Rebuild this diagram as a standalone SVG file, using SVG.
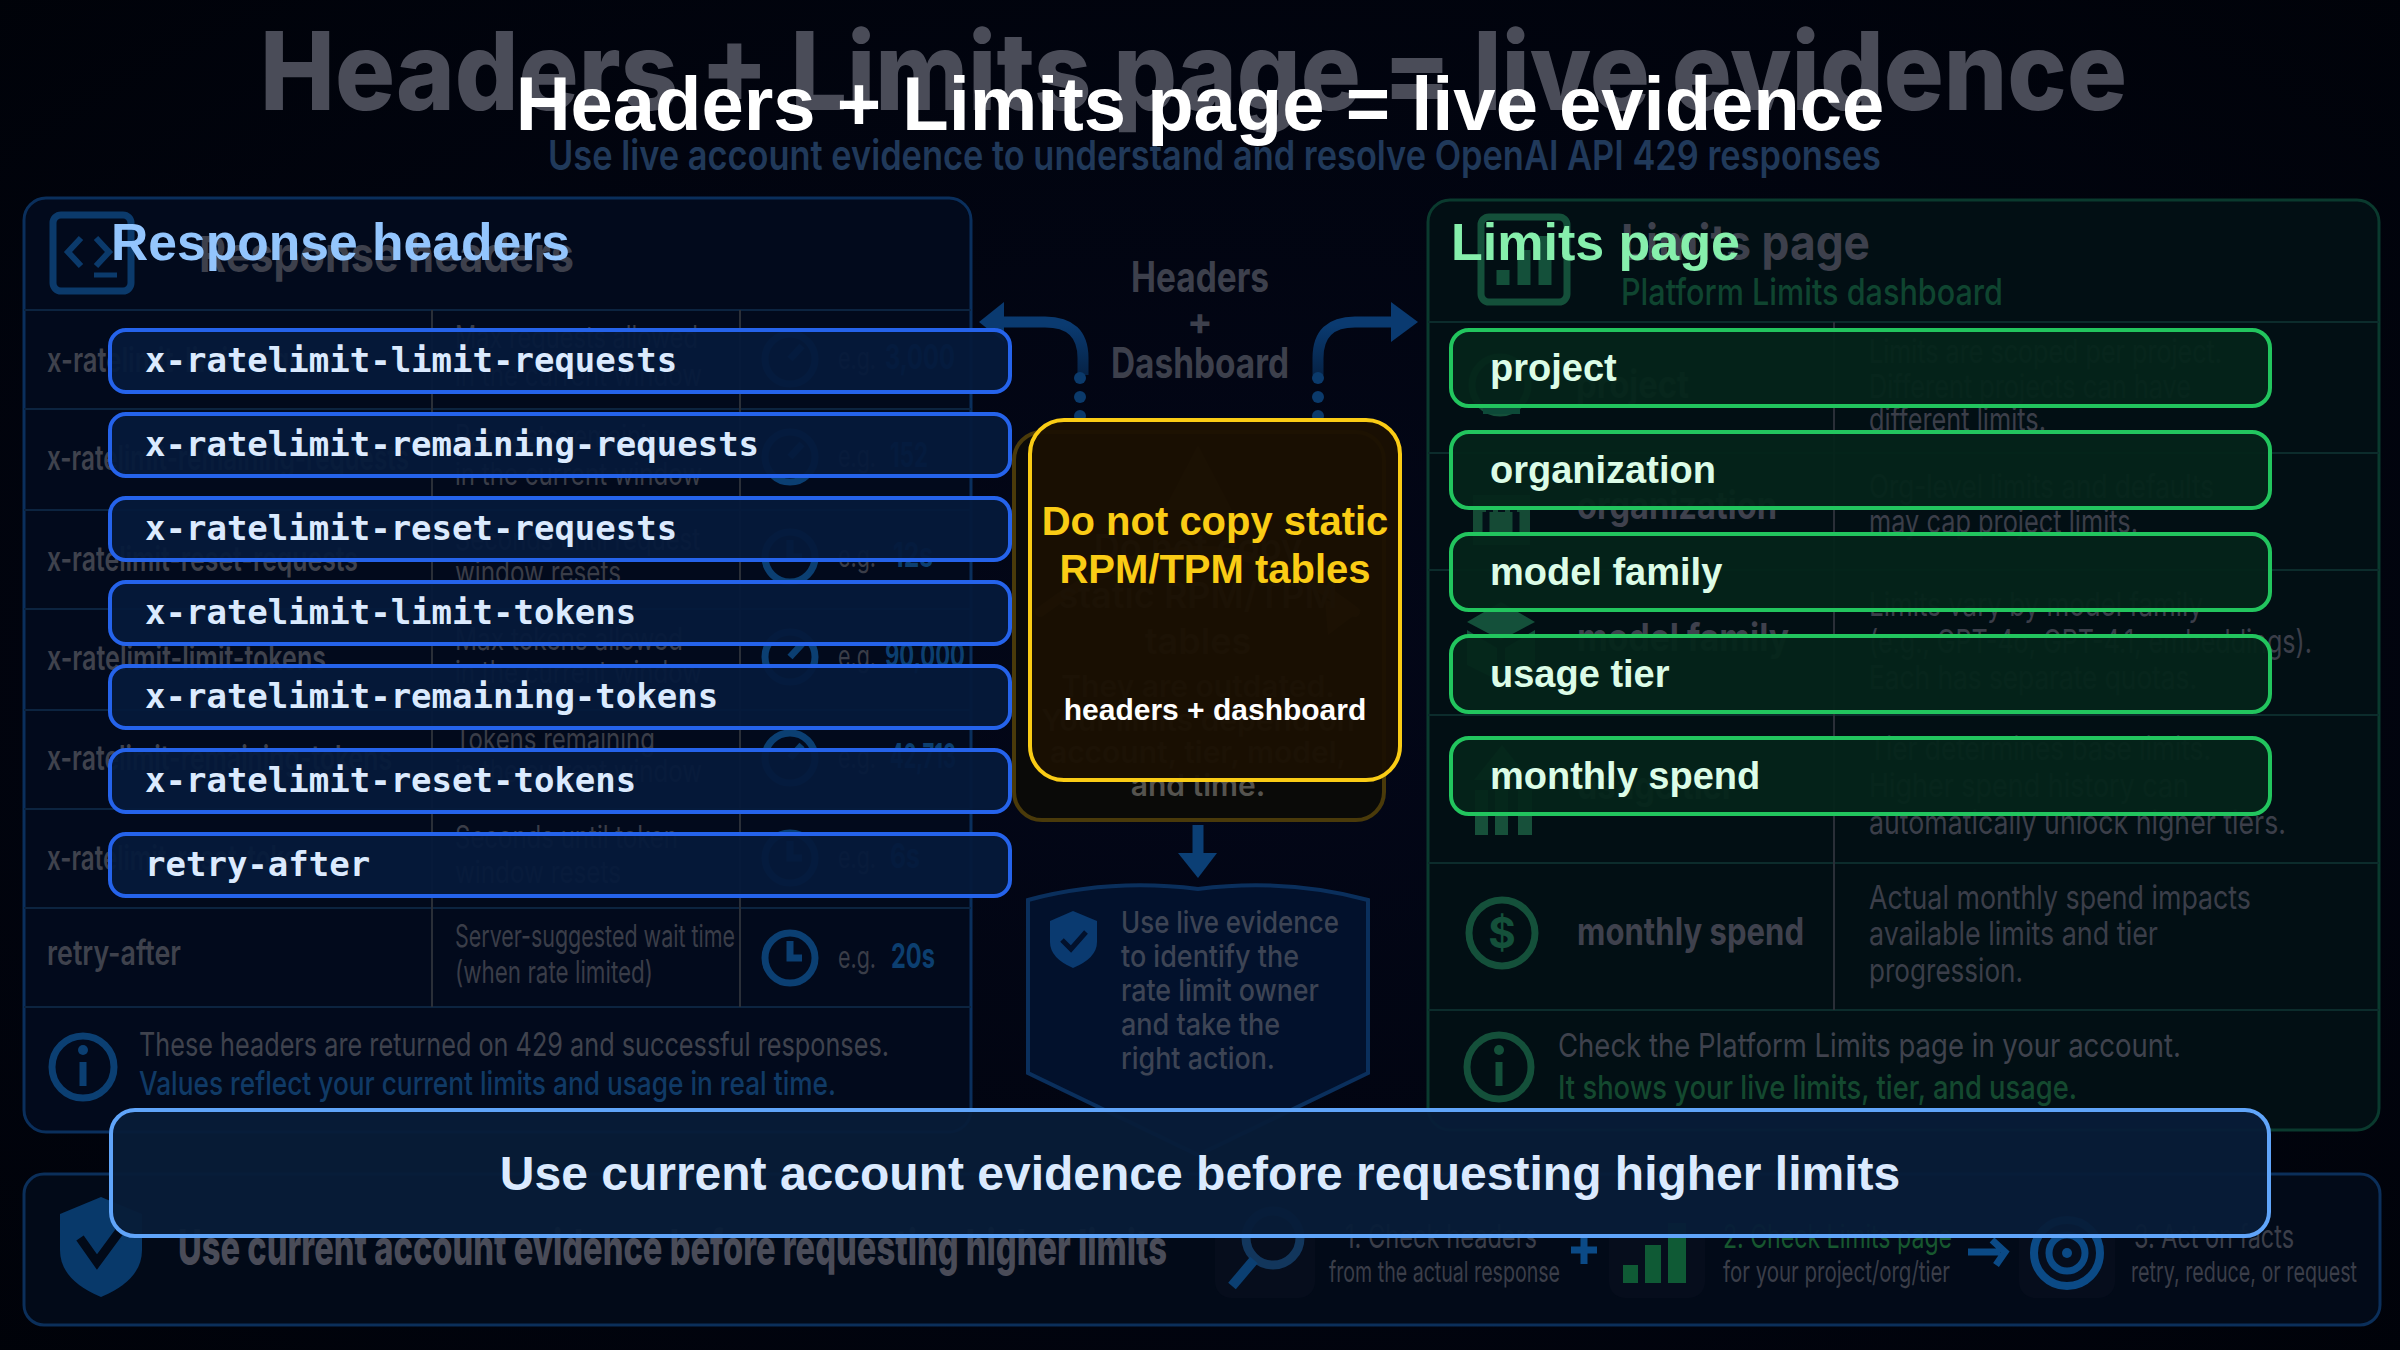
<svg xmlns="http://www.w3.org/2000/svg" width="2400" height="1350" viewBox="0 0 2400 1350">
<defs>
<radialGradient id="bg" cx="50%" cy="50%" r="75%"><stop offset="0" stop-color="#030719"/><stop offset="1" stop-color="#000208"/></radialGradient>
<linearGradient id="fade" gradientUnits="userSpaceOnUse" x1="0" y1="325" x2="0" y2="385"><stop offset="0" stop-color="#0a3a70"/><stop offset="1" stop-color="#051e3e"/></linearGradient>
</defs>
<style>
text{font-family:"Inter","Liberation Sans",sans-serif}
.g1{font-weight:800;fill:#4a4c58}
.gn{font-size:34px;font-weight:600;fill:#3f424d}
.gd{font-size:31px;fill:#3a3d48}
.ge{font-size:30px;fill:#3a3d48}
.gv{font-size:34px;font-weight:700;fill:#0c3f70}
.gr{font-size:33px;fill:#3b3e49}
.grn{font-size:38px;font-weight:700;fill:#3f414d}
.gb{font-size:30px;font-weight:500;fill:#3d4454}
.gy{font-size:30px;font-weight:600;fill:#3a3a38;text-anchor:middle}
.ic{fill:none;stroke:#0b3f72;stroke-width:7}
.icg{fill:none;stroke:#14503a;stroke-width:7}
.lin{stroke:#0c2440;stroke-width:2}
.ling{stroke:#0c2c2c;stroke-width:2}
.colv{stroke:#2a2f38;stroke-width:2}
.chip rect{fill:#05193a;fill-opacity:.94;stroke:#2563eb;stroke-width:4}
.chip text{font-family:"DejaVu Sans Mono","Liberation Mono",monospace;font-weight:700;font-size:34px;fill:#dbeafe}
.lim rect{fill:#04241a;fill-opacity:.94;stroke:#22c55e;stroke-width:4}
.lim text{font-family:"Liberation Sans",Arial,sans-serif;font-weight:700;font-size:38px;fill:#dcfce7}
.fg{font-family:"Liberation Sans",Arial,sans-serif;font-weight:700}
.dot{fill:#0b3a6b}
.arr{fill:none;stroke:url(#fade);stroke-width:11}
</style>
<rect width="2400" height="1350" fill="url(#bg)"/>

<g id="ghost-title">
<text class="g1" x="260" y="110" font-size="108" textLength="1867" lengthAdjust="spacingAndGlyphs">Headers + Limits page = live evidence</text>
<text x="548" y="170" font-size="41" font-weight="600" fill="#20395a" textLength="1333" lengthAdjust="spacingAndGlyphs">Use live account evidence to understand and resolve OpenAI API 429 responses</text>
</g>

<g id="ghost-headers-panel">
<rect x="24" y="198" width="947" height="934" rx="22" fill="#020a1c" stroke="#0a2f5c" stroke-width="3"/>
<rect x="53" y="215" width="78" height="76" rx="8" fill="none" stroke="#0b3a6b" stroke-width="7"/>
<path d="M81 238L68 252L81 266M96 238L109 252L96 266" fill="none" stroke="#0b3a6b" stroke-width="6"/>
<path d="M94 275H117" stroke="#0b3a6b" stroke-width="5"/>
<text x="199" y="272" font-size="50" font-weight="700" fill="#3d404c" textLength="375" lengthAdjust="spacingAndGlyphs">Response headers</text>
<path class="lin" d="M24 310H971M24 409H971M24 510H971M24 609H971M24 710H971M24 809H971M24 908H971M24 1007H971"/>
<path class="colv" d="M432 310V1007M740 310V1007"/>
<text class="gn" x="47" y="372" textLength="310" lengthAdjust="spacingAndGlyphs">x-ratelimit-limit-requests</text>
<text class="gn" x="47" y="470" textLength="362" lengthAdjust="spacingAndGlyphs">x-ratelimit-remaining-requests</text>
<text class="gn" x="47" y="571" textLength="311" lengthAdjust="spacingAndGlyphs">x-ratelimit-reset-requests</text>
<text class="gn" x="47" y="670" textLength="279" lengthAdjust="spacingAndGlyphs">x-ratelimit-limit-tokens</text>
<text class="gn" x="47" y="770" textLength="345" lengthAdjust="spacingAndGlyphs">x-ratelimit-remaining-tokens</text>
<text class="gn" x="47" y="870" textLength="279" lengthAdjust="spacingAndGlyphs">x-ratelimit-reset-tokens</text>
<text class="gn" x="47" y="965" textLength="134" lengthAdjust="spacingAndGlyphs">retry-after</text>
<text class="gd" x="455" y="348" textLength="243" lengthAdjust="spacingAndGlyphs">Max requests allowed</text>
<text class="gd" x="455" y="386" textLength="247" lengthAdjust="spacingAndGlyphs">in the current window</text>
<text class="gd" x="455" y="447" textLength="220" lengthAdjust="spacingAndGlyphs">Requests remaining</text>
<text class="gd" x="455" y="485" textLength="247" lengthAdjust="spacingAndGlyphs">in the current window</text>
<text class="gd" x="455" y="550" textLength="245" lengthAdjust="spacingAndGlyphs">Seconds until request</text>
<text class="gd" x="455" y="583" textLength="166" lengthAdjust="spacingAndGlyphs">window resets</text>
<text class="gd" x="455" y="650" textLength="228" lengthAdjust="spacingAndGlyphs">Max tokens allowed</text>
<text class="gd" x="455" y="683" textLength="247" lengthAdjust="spacingAndGlyphs">in the current window</text>
<text class="gd" x="455" y="750" textLength="200" lengthAdjust="spacingAndGlyphs">Tokens remaining</text>
<text class="gd" x="455" y="782" textLength="247" lengthAdjust="spacingAndGlyphs">in the current window</text>
<text class="gd" x="455" y="848" textLength="223" lengthAdjust="spacingAndGlyphs">Seconds until token</text>
<text class="gd" x="455" y="883" textLength="166" lengthAdjust="spacingAndGlyphs">window resets</text>
<text class="gd" x="455" y="947" textLength="280" lengthAdjust="spacingAndGlyphs">Server-suggested wait time</text>
<text class="gd" x="455" y="983" textLength="198" lengthAdjust="spacingAndGlyphs">(when rate limited)</text>
<g class="ic">
<circle cx="790" cy="359" r="25"/><path d="M790 359L802 346"/>
<circle cx="790" cy="457" r="25"/><path d="M790 457L802 444"/>
<circle cx="790" cy="557" r="25"/><path d="M790 540V557H802"/>
<circle cx="790" cy="657" r="25"/><path d="M790 657L802 644"/>
<circle cx="790" cy="758" r="25"/><path d="M790 758L802 745"/>
<circle cx="790" cy="858" r="25"/><path d="M790 841V858H802"/>
<circle cx="790" cy="958" r="25"/><path d="M790 941V958H802"/>
</g>
<g>
<text class="ge" x="838" y="369" textLength="38" lengthAdjust="spacingAndGlyphs">e.g.</text><text class="gv" x="885" y="369" textLength="70" lengthAdjust="spacingAndGlyphs">3,000</text>
<text class="ge" x="838" y="467" textLength="38" lengthAdjust="spacingAndGlyphs">e.g.</text><text class="gv" x="890" y="467" textLength="38" lengthAdjust="spacingAndGlyphs">152</text>
<text class="ge" x="838" y="567" textLength="38" lengthAdjust="spacingAndGlyphs">e.g.</text><text class="gv" x="893" y="567" textLength="40" lengthAdjust="spacingAndGlyphs">12s</text>
<text class="ge" x="838" y="667" textLength="38" lengthAdjust="spacingAndGlyphs">e.g.</text><text class="gv" x="885" y="667" textLength="80" lengthAdjust="spacingAndGlyphs">90,000</text>
<text class="ge" x="838" y="768" textLength="38" lengthAdjust="spacingAndGlyphs">e.g.</text><text class="gv" x="890" y="768" textLength="66" lengthAdjust="spacingAndGlyphs">42,713</text>
<text class="ge" x="838" y="868" textLength="38" lengthAdjust="spacingAndGlyphs">e.g.</text><text class="gv" x="890" y="868" textLength="30" lengthAdjust="spacingAndGlyphs">6s</text>
<text class="ge" x="838" y="968" textLength="38" lengthAdjust="spacingAndGlyphs">e.g.</text><text class="gv" x="891" y="968" textLength="44" lengthAdjust="spacingAndGlyphs">20s</text>
</g>
<circle class="ic" cx="83" cy="1067" r="31"/>
<circle cx="83" cy="1050" r="5" fill="#0b3f72"/><path d="M83 1062V1086" stroke="#0b3f72" stroke-width="7"/>
<text x="139" y="1056" font-size="33" fill="#3f424d" textLength="750" lengthAdjust="spacingAndGlyphs">These headers are returned on 429 and successful responses.</text>
<text x="139" y="1095" font-size="33" font-weight="500" fill="#103a66" textLength="697" lengthAdjust="spacingAndGlyphs">Values reflect your current limits and usage in real time.</text>
</g>

<g id="ghost-limits-panel">
<rect x="1428" y="200" width="951" height="930" rx="22" fill="#020f14" stroke="#0a3a2e" stroke-width="3"/>
<rect x="1481" y="217" width="86" height="85" rx="8" fill="none" stroke="#14503a" stroke-width="7"/>
<path d="M1503 285V270M1524 285V250M1545 285V236" stroke="#14503a" stroke-width="13"/>
<text x="1621" y="260" font-size="50" font-weight="700" fill="#3d404c" textLength="249" lengthAdjust="spacingAndGlyphs">Limits page</text>
<text x="1621" y="305" font-size="37" font-weight="500" fill="#0f4530" textLength="382" lengthAdjust="spacingAndGlyphs">Platform Limits dashboard</text>
<path class="ling" d="M1428 322H2379M1428 453H2379M1428 570H2379M1428 715H2379M1428 863H2379M1428 1010H2379"/>
<path class="colv" d="M1834 322V1010"/>
<circle class="icg" cx="1500" cy="385" r="28"/><rect x="1483" y="400" width="37" height="14" fill="#0d4a38"/>
<path d="M1473 545V495H1530V545Z" fill="#154a35"/><path d="M1486 512V532M1516 512V532" stroke="#031018" stroke-width="7"/><path d="M1486 510h7M1498 510h7M1510 510h7" stroke="#031018" stroke-width="4"/>
<path d="M1501 602L1535 622L1501 640L1467 622Z" fill="#14503a"/><path d="M1467 630V665L1497 680V648ZM1535 630V665L1505 680V648Z" fill="#14503a"/>
<path d="M1475 835V790H1488V835ZM1495 835V770H1508V835ZM1518 835V790H1532V835ZM1502 745L1530 780H1474Z" fill="#17503a"/>
<circle class="icg" cx="1502" cy="933" r="33"/><text x="1502" y="948" font-size="42" font-weight="700" fill="#14503a" text-anchor="middle">$</text>
<g class="grn">
<text x="1576" y="398" textLength="113" lengthAdjust="spacingAndGlyphs">project</text>
<text x="1577" y="519" textLength="200" lengthAdjust="spacingAndGlyphs">organization</text>
<text x="1577" y="651" textLength="212" lengthAdjust="spacingAndGlyphs">model family</text>
<text x="1577" y="799" textLength="158" lengthAdjust="spacingAndGlyphs">usage tier</text>
<text x="1577" y="945" textLength="227" lengthAdjust="spacingAndGlyphs">monthly spend</text>
</g>
<g class="gr">
<text x="1869" y="363" textLength="353" lengthAdjust="spacingAndGlyphs">Limits are scoped per project.</text>
<text x="1869" y="398" textLength="322" lengthAdjust="spacingAndGlyphs">Different projects can have</text>
<text x="1869" y="431" textLength="177" lengthAdjust="spacingAndGlyphs">different limits.</text>
<text x="1869" y="498" textLength="345" lengthAdjust="spacingAndGlyphs">Org-level limits and defaults</text>
<text x="1869" y="533" textLength="269" lengthAdjust="spacingAndGlyphs">may cap project limits.</text>
<text x="1869" y="616" textLength="334" lengthAdjust="spacingAndGlyphs">Limits vary by model family</text>
<text x="1869" y="653" textLength="443" lengthAdjust="spacingAndGlyphs">(e.g., GPT-4o, GPT-4.1, embeddings).</text>
<text x="1869" y="689" textLength="328" lengthAdjust="spacingAndGlyphs">Each has separate quotas.</text>
<text x="1869" y="760" textLength="342" lengthAdjust="spacingAndGlyphs">Tier determines base limits.</text>
<text x="1869" y="797" textLength="320" lengthAdjust="spacingAndGlyphs">Higher spend history can</text>
<text x="1869" y="834" textLength="417" lengthAdjust="spacingAndGlyphs">automatically unlock higher tiers.</text>
<text x="1869" y="909" textLength="382" lengthAdjust="spacingAndGlyphs">Actual monthly spend impacts</text>
<text x="1869" y="945" textLength="289" lengthAdjust="spacingAndGlyphs">available limits and tier</text>
<text x="1869" y="982" textLength="154" lengthAdjust="spacingAndGlyphs">progression.</text>
</g>
<circle class="icg" cx="1499" cy="1067" r="32"/>
<circle cx="1499" cy="1050" r="5" fill="#14503a"/><path d="M1499 1062V1086" stroke="#14503a" stroke-width="7"/>
<text x="1558" y="1057" font-size="33" fill="#3f424d" textLength="623" lengthAdjust="spacingAndGlyphs">Check the Platform Limits page in your account.</text>
<text x="1558" y="1099" font-size="33" font-weight="500" fill="#14492f" textLength="519" lengthAdjust="spacingAndGlyphs">It shows your live limits, tier, and usage.</text>
</g>

<g id="ghost-centre">
<text x="1200" y="292" font-size="42" font-weight="700" fill="#3d404c" text-anchor="middle" textLength="138" lengthAdjust="spacingAndGlyphs">Headers</text>
<text x="1200" y="335" font-size="38" font-weight="700" fill="#3d404c" text-anchor="middle">+</text>
<text x="1200" y="378" font-size="42" font-weight="700" fill="#3d404c" text-anchor="middle" textLength="178" lengthAdjust="spacingAndGlyphs">Dashboard</text>
<rect x="1014" y="432" width="370" height="388" rx="28" fill="#0a0a08" stroke="#4a3a0a" stroke-width="4"/>
<path d="M1198 445L1232 510H1164Z" fill="#2c2616"/>
<path d="M1040 612Q1200 490 1355 612" fill="none" stroke="#3a3520" stroke-width="10" stroke-linecap="round"/>
<path d="M1325 600L1361 610L1328 635Z" fill="#3a3520"/>
<g class="gy">
<text x="1198" y="560" font-size="36">Do not copy</text>
<text x="1198" y="608" font-size="36">static RPM/TPM</text>
<text x="1198" y="654" font-size="36">tables</text>
<text x="1198" y="697">They are outdated.</text>
<text x="1198" y="731">Your limits depend on</text>
<text x="1198" y="763">account, tier, model,</text>
<text x="1198" y="796" fill="#55534e">and time.</text>
</g>
<path d="M1028 900Q1110 878 1198 889Q1286 878 1368 900V1073L1198 1155L1028 1073Z" fill="#02112c" stroke="#0a2f5c" stroke-width="4"/>
<path d="M1073 911L1097 921V942Q1097 958 1073 968Q1050 958 1050 942V921Z" fill="#0a3a70"/>
<path d="M1062 940L1071 949L1086 932" fill="none" stroke="#02112c" stroke-width="5"/>
<g class="gb">
<text x="1121" y="933" textLength="218" lengthAdjust="spacingAndGlyphs">Use live evidence</text>
<text x="1121" y="967" textLength="178" lengthAdjust="spacingAndGlyphs">to identify the</text>
<text x="1121" y="1001" textLength="198" lengthAdjust="spacingAndGlyphs">rate limit owner</text>
<text x="1121" y="1035" textLength="159" lengthAdjust="spacingAndGlyphs">and take the</text>
<text x="1121" y="1069" textLength="154" lengthAdjust="spacingAndGlyphs">right action.</text>
</g>
</g>

<g id="connectors">
<path class="arr" d="M1083 375V358Q1083 322 1045 322H1002"/>
<path d="M979 322L1004 302V342Z" fill="#0a3a70"/>
<circle class="dot" cx="1080" cy="378" r="6"/><circle class="dot" cx="1080" cy="397" r="6"/><circle class="dot" cx="1080" cy="416" r="6"/>
<path class="arr" d="M1318 375V358Q1318 322 1355 322H1392"/>
<path d="M1418 322L1391 302V342Z" fill="#0a3a70"/>
<circle class="dot" cx="1318" cy="378" r="6"/><circle class="dot" cx="1318" cy="397" r="6"/><circle class="dot" cx="1318" cy="416" r="6"/>
<path d="M1198 825V855" stroke="#0b3f75" stroke-width="11" fill="none"/>
<path d="M1178 853H1217L1198 878Z" fill="#0b3f75"/>
</g>

<g id="ghost-bottom">
<rect x="24" y="1174" width="2356" height="151" rx="20" fill="#020a18" stroke="#0b2f5a" stroke-width="3"/>
<path d="M101 1197L142 1214V1250Q142 1280 101 1297Q60 1280 60 1250V1214Z" fill="#08396a"/>
<path d="M80 1238L97 1262L122 1228" fill="none" stroke="#020a18" stroke-width="9"/>
<text class="g1" x="178" y="1265" font-size="50" font-weight="700" textLength="989" lengthAdjust="spacingAndGlyphs">Use current account evidence before requesting higher limits</text>
<rect x="1215" y="1190" width="100" height="108" rx="16" fill="#060d1c"/>
<circle cx="1273" cy="1238" r="27" fill="none" stroke="#12365c" stroke-width="9"/>
<path d="M1254 1260L1232 1286" stroke="#0b3f72" stroke-width="10"/>
<text x="1345" y="1248" font-size="32" fill="#3b3e49" textLength="192" lengthAdjust="spacingAndGlyphs">1. Check headers</text>
<text x="1329" y="1282" font-size="29" fill="#3b3e49" textLength="231" lengthAdjust="spacingAndGlyphs">from the actual response</text>
<path d="M1584 1235V1264M1571 1250H1597" stroke="#0b4a86" stroke-width="7"/>
<rect x="1609" y="1190" width="96" height="108" rx="16" fill="#060d1c"/>
<path d="M1623 1265h15v18h-15zM1645 1245h16v38h-16zM1668 1223h18v60h-18z" fill="#0f5a35"/>
<text x="1723" y="1248" font-size="32" fill="#17572f" textLength="229" lengthAdjust="spacingAndGlyphs">2. Check Limits page</text>
<text x="1723" y="1282" font-size="29" fill="#3b3e49" textLength="227" lengthAdjust="spacingAndGlyphs">for your project/org/tier</text>
<path d="M1968 1252H2000M1992 1240L2005 1252L1996 1265" fill="none" stroke="#0b4a86" stroke-width="7"/>
<rect x="2019" y="1190" width="96" height="108" rx="16" fill="#060d1c"/>
<circle cx="2067" cy="1253" r="33" fill="none" stroke="#0b4a86" stroke-width="8"/>
<circle cx="2067" cy="1253" r="18" fill="none" stroke="#0b4a86" stroke-width="7"/>
<circle cx="2067" cy="1253" r="5" fill="#0b4a86"/>
<text x="2134" y="1248" font-size="32" fill="#3b3e49" textLength="160" lengthAdjust="spacingAndGlyphs">3. Act on facts</text>
<text x="2131" y="1282" font-size="29" fill="#3b3e49" textLength="226" lengthAdjust="spacingAndGlyphs">retry, reduce, or request</text>
</g>

<g id="title"><text class="fg" x="1200" y="130" font-size="76" fill="#ffffff" text-anchor="middle">Headers + Limits page = live evidence</text></g>
<g id="heading-response"><text class="fg" x="111" y="260" font-size="52" fill="#93c5fd" textLength="459" lengthAdjust="spacingAndGlyphs">Response headers</text></g>
<g id="heading-limits"><text class="fg" x="1451" y="260" font-size="52" fill="#86efac">Limits page</text></g>

<g id="header-1" class="chip"><rect x="110" y="330" width="900" height="62" rx="16"/><text x="145" y="372">x-ratelimit-limit-requests</text></g>
<g id="header-2" class="chip"><rect x="110" y="414" width="900" height="62" rx="16"/><text x="145" y="456">x-ratelimit-remaining-requests</text></g>
<g id="header-3" class="chip"><rect x="110" y="498" width="900" height="62" rx="16"/><text x="145" y="540">x-ratelimit-reset-requests</text></g>
<g id="header-4" class="chip"><rect x="110" y="582" width="900" height="62" rx="16"/><text x="145" y="624">x-ratelimit-limit-tokens</text></g>
<g id="header-5" class="chip"><rect x="110" y="666" width="900" height="62" rx="16"/><text x="145" y="708">x-ratelimit-remaining-tokens</text></g>
<g id="header-6" class="chip"><rect x="110" y="750" width="900" height="62" rx="16"/><text x="145" y="792">x-ratelimit-reset-tokens</text></g>
<g id="header-7" class="chip"><rect x="110" y="834" width="900" height="62" rx="16"/><text x="145" y="876">retry-after</text></g>

<g id="limit-1" class="lim"><rect x="1451" y="330" width="819" height="76" rx="18"/><text x="1490" y="381">project</text></g>
<g id="limit-2" class="lim"><rect x="1451" y="432" width="819" height="76" rx="18"/><text x="1490" y="483">organization</text></g>
<g id="limit-3" class="lim"><rect x="1451" y="534" width="819" height="76" rx="18"/><text x="1490" y="585">model family</text></g>
<g id="limit-4" class="lim"><rect x="1451" y="636" width="819" height="76" rx="18"/><text x="1490" y="687">usage tier</text></g>
<g id="limit-5" class="lim"><rect x="1451" y="738" width="819" height="76" rx="18"/><text x="1490" y="789">monthly spend</text></g>

<g id="callout">
<rect x="1030" y="420" width="370" height="360" rx="34" fill="#1a1002" fill-opacity=".95" stroke="#facc15" stroke-width="4"/>
<text class="fg" x="1215" y="535" font-size="40" fill="#facc15" text-anchor="middle">Do not copy static</text>
<text class="fg" x="1215" y="583" font-size="40" fill="#facc15" text-anchor="middle">RPM/TPM tables</text>
<text class="fg" x="1215" y="720" font-size="30" fill="#ffffff" text-anchor="middle">headers + dashboard</text>
</g>

<g id="banner">
<rect x="111" y="1110" width="2158" height="126" rx="24" fill="#071c38" fill-opacity=".95" stroke="#60a5fa" stroke-width="4"/>
<text class="fg" x="1200" y="1190" font-size="48" fill="#dbeafe" text-anchor="middle">Use current account evidence before requesting higher limits</text>
</g>
</svg>
